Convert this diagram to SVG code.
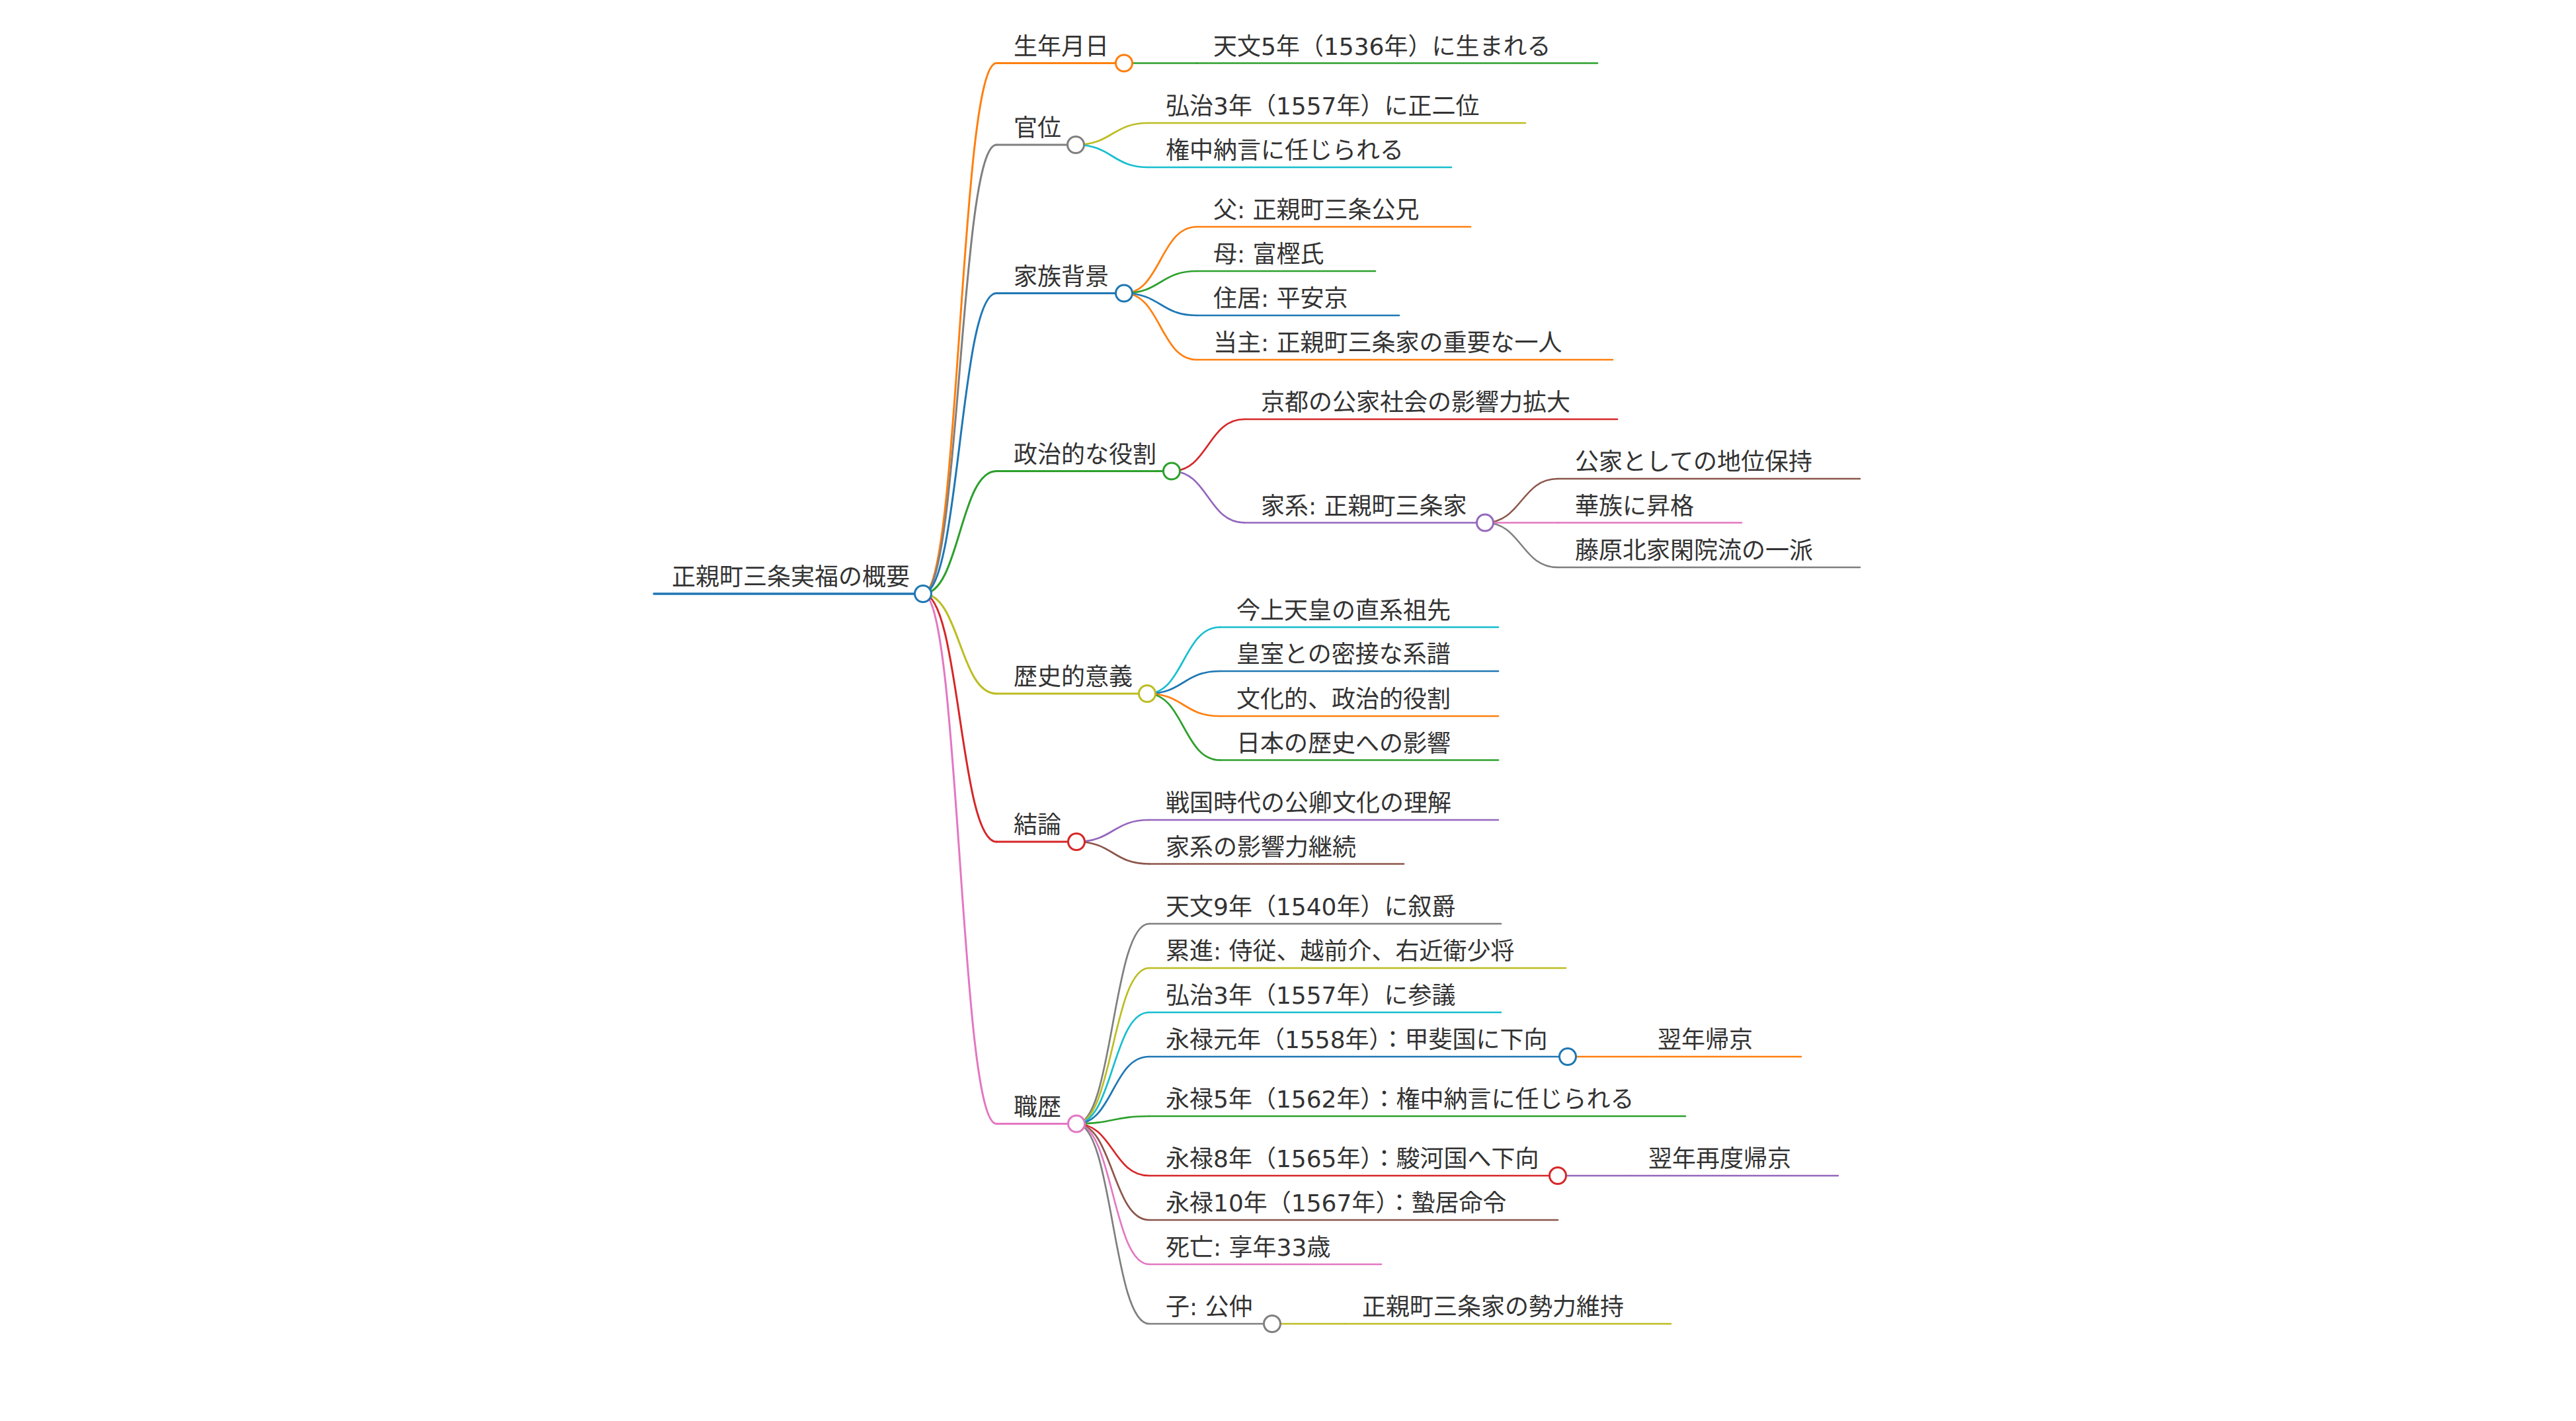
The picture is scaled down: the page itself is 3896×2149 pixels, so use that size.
<svg xmlns="http://www.w3.org/2000/svg" width="3896" height="2149" viewBox="0 0 3896 2149">
<style>
text{font-family:"DejaVu Sans","Noto Sans CJK JP",sans-serif;font-size:36px;fill:#333}
line,path{fill:none;stroke-linecap:round}
circle{fill:#fff;stroke-width:3}
.d0{stroke-width:3.5}.d1{stroke-width:3}.d2{stroke-width:2.7}.d3{stroke-width:2.5}
.blue{stroke:#1f77b4}.orange{stroke:#ff7f0e}.green{stroke:#2ca02c}.red{stroke:#d62728}.purple{stroke:#9467bd}
.brown{stroke:#8c564b}.pink{stroke:#e377c2}.gray{stroke:#7f7f7f}.olive{stroke:#bcbd22}.cyan{stroke:#17becf}
</style>
<rect width="3896" height="2149" fill="#fff"/>
<g id="connectors">
<path class="d1 orange" d="M1396 898C1451.5 898 1451.5 95.5 1507 95.5"/>
<path class="d1 gray" d="M1396 898C1451.5 898 1451.5 219 1507 219"/>
<path class="d1 blue" d="M1396 898C1451.5 898 1451.5 443.5 1507 443.5"/>
<path class="d1 green" d="M1396 898C1451.5 898 1451.5 712.5 1507 712.5"/>
<path class="d1 olive" d="M1396 898C1451.5 898 1451.5 1049 1507 1049"/>
<path class="d1 red" d="M1396 898C1451.5 898 1451.5 1273 1507 1273"/>
<path class="d1 pink" d="M1396 898C1451.5 898 1451.5 1699.5 1507 1699.5"/>
<path class="d2 green" d="M1700 95.5H1810"/>
<path class="d2 olive" d="M1627 219C1682 219 1682 186 1737 186"/>
<path class="d2 cyan" d="M1627 219C1682 219 1682 253 1737 253"/>
<path class="d2 orange" d="M1700 443.5C1755 443.5 1755 343 1810 343"/>
<path class="d2 green" d="M1700 443.5C1755 443.5 1755 410 1810 410"/>
<path class="d2 blue" d="M1700 443.5C1755 443.5 1755 477 1810 477"/>
<path class="d2 orange" d="M1700 443.5C1755 443.5 1755 544 1810 544"/>
<path class="d2 red" d="M1772 712.5C1827 712.5 1827 634 1882 634"/>
<path class="d2 purple" d="M1772 712.5C1827 712.5 1827 790.5 1882 790.5"/>
<path class="d3 brown" d="M2246 790.5C2301 790.5 2301 724 2356 724"/>
<path class="d3 pink" d="M2246 790.5H2356"/>
<path class="d3 gray" d="M2246 790.5C2301 790.5 2301 858 2356 858"/>
<path class="d2 cyan" d="M1735 1049C1790 1049 1790 948.5 1845 948.5"/>
<path class="d2 blue" d="M1735 1049C1790 1049 1790 1015 1845 1015"/>
<path class="d2 orange" d="M1735 1049C1790 1049 1790 1083 1845 1083"/>
<path class="d2 green" d="M1735 1049C1790 1049 1790 1149.5 1845 1149.5"/>
<path class="d2 purple" d="M1628 1273C1683 1273 1683 1240 1738 1240"/>
<path class="d2 brown" d="M1628 1273C1683 1273 1683 1306.5 1738 1306.5"/>
<path class="d2 gray" d="M1628 1699.5C1683 1699.5 1683 1397 1738 1397"/>
<path class="d2 olive" d="M1628 1699.5C1683 1699.5 1683 1464 1738 1464"/>
<path class="d2 cyan" d="M1628 1699.5C1683 1699.5 1683 1531 1738 1531"/>
<path class="d2 blue" d="M1628 1699.5C1683 1699.5 1683 1598 1738 1598"/>
<path class="d2 green" d="M1628 1699.5C1683 1699.5 1683 1688 1738 1688"/>
<path class="d2 red" d="M1628 1699.5C1683 1699.5 1683 1778 1738 1778"/>
<path class="d2 brown" d="M1628 1699.5C1683 1699.5 1683 1845 1738 1845"/>
<path class="d2 pink" d="M1628 1699.5C1683 1699.5 1683 1912 1738 1912"/>
<path class="d2 gray" d="M1628 1699.5C1683 1699.5 1683 2002 1738 2002"/>
<path class="d3 orange" d="M2371 1598H2481"/>
<path class="d3 purple" d="M2356 1778H2466"/>
<path class="d3 olive" d="M1924 2002H2034"/>
</g>
<g id="node-root"><line class="d0 blue" x1="989" y1="898" x2="1396" y2="898"/><circle class="blue" cx="1396" cy="898" r="12.5"/><text x="1016" y="885">正親町三条実福の概要</text></g>
<g id="node-birth"><line class="d1 orange" x1="1507" y1="95.5" x2="1700" y2="95.5"/><circle class="orange" cx="1700" cy="95.5" r="12.5"/><text x="1533" y="82.5">生年月日</text></g>
<g id="node-birth-1"><line class="d2 green" x1="1810" y1="95.5" x2="2416" y2="95.5"/><text x="1835" y="82.5">天文5年（1536年）に生まれる</text></g>
<g id="node-rank"><line class="d1 gray" x1="1507" y1="219" x2="1627" y2="219"/><circle class="gray" cx="1627" cy="219" r="12.5"/><text x="1533" y="206">官位</text></g>
<g id="node-rank-1"><line class="d2 olive" x1="1737" y1="186" x2="2307" y2="186"/><text x="1763" y="173">弘治3年（1557年）に正二位</text></g>
<g id="node-rank-2"><line class="d2 cyan" x1="1737" y1="253" x2="2195" y2="253"/><text x="1763" y="240">権中納言に任じられる</text></g>
<g id="node-family"><line class="d1 blue" x1="1507" y1="443.5" x2="1700" y2="443.5"/><circle class="blue" cx="1700" cy="443.5" r="12.5"/><text x="1533" y="430.5">家族背景</text></g>
<g id="node-family-1"><line class="d2 orange" x1="1810" y1="343" x2="2224" y2="343"/><text x="1835" y="330">父: 正親町三条公兄</text></g>
<g id="node-family-2"><line class="d2 green" x1="1810" y1="410" x2="2080" y2="410"/><text x="1835" y="397">母: 富樫氏</text></g>
<g id="node-family-3"><line class="d2 blue" x1="1810" y1="477" x2="2116" y2="477"/><text x="1835" y="464">住居: 平安京</text></g>
<g id="node-family-4"><line class="d2 orange" x1="1810" y1="544" x2="2439" y2="544"/><text x="1835" y="531">当主: 正親町三条家の重要な一人</text></g>
<g id="node-politics"><line class="d1 green" x1="1507" y1="712.5" x2="1772" y2="712.5"/><circle class="green" cx="1772" cy="712.5" r="12.5"/><text x="1533" y="699.5">政治的な役割</text></g>
<g id="node-politics-1"><line class="d2 red" x1="1882" y1="634" x2="2446" y2="634"/><text x="1907" y="621">京都の公家社会の影響力拡大</text></g>
<g id="node-politics-2"><line class="d2 purple" x1="1882" y1="790.5" x2="2246" y2="790.5"/><circle class="purple" cx="2246" cy="790.5" r="12.5"/><text x="1907" y="777.5">家系: 正親町三条家</text></g>
<g id="node-lineage-1"><line class="d3 brown" x1="2356" y1="724" x2="2813" y2="724"/><text x="2382" y="711">公家としての地位保持</text></g>
<g id="node-lineage-2"><line class="d3 pink" x1="2356" y1="790.5" x2="2634" y2="790.5"/><text x="2382" y="777.5">華族に昇格</text></g>
<g id="node-lineage-3"><line class="d3 gray" x1="2356" y1="858" x2="2813" y2="858"/><text x="2382" y="845">藤原北家閑院流の一派</text></g>
<g id="node-history"><line class="d1 olive" x1="1507" y1="1049" x2="1735" y2="1049"/><circle class="olive" cx="1735" cy="1049" r="12.5"/><text x="1533" y="1036">歴史的意義</text></g>
<g id="node-history-1"><line class="d2 cyan" x1="1845" y1="948.5" x2="2266" y2="948.5"/><text x="1870" y="935.5">今上天皇の直系祖先</text></g>
<g id="node-history-2"><line class="d2 blue" x1="1845" y1="1015" x2="2266" y2="1015"/><text x="1870" y="1002">皇室との密接な系譜</text></g>
<g id="node-history-3"><line class="d2 orange" x1="1845" y1="1083" x2="2266" y2="1083"/><text x="1870" y="1070">文化的、政治的役割</text></g>
<g id="node-history-4"><line class="d2 green" x1="1845" y1="1149.5" x2="2266" y2="1149.5"/><text x="1870" y="1136.5">日本の歴史への影響</text></g>
<g id="node-conclusion"><line class="d1 red" x1="1507" y1="1273" x2="1628" y2="1273"/><circle class="red" cx="1628" cy="1273" r="12.5"/><text x="1533" y="1260">結論</text></g>
<g id="node-conclusion-1"><line class="d2 purple" x1="1738" y1="1240" x2="2266" y2="1240"/><text x="1763" y="1227">戦国時代の公卿文化の理解</text></g>
<g id="node-conclusion-2"><line class="d2 brown" x1="1738" y1="1306.5" x2="2123" y2="1306.5"/><text x="1763" y="1293.5">家系の影響力継続</text></g>
<g id="node-career"><line class="d1 pink" x1="1507" y1="1699.5" x2="1628" y2="1699.5"/><circle class="pink" cx="1628" cy="1699.5" r="12.5"/><text x="1533" y="1686.5">職歴</text></g>
<g id="node-career-1"><line class="d2 gray" x1="1738" y1="1397" x2="2270" y2="1397"/><text x="1763" y="1384">天文9年（1540年）に叙爵</text></g>
<g id="node-career-2"><line class="d2 olive" x1="1738" y1="1464" x2="2368" y2="1464"/><text x="1763" y="1451">累進: 侍従、越前介、右近衛少将</text></g>
<g id="node-career-3"><line class="d2 cyan" x1="1738" y1="1531" x2="2270" y2="1531"/><text x="1763" y="1518">弘治3年（1557年）に参議</text></g>
<g id="node-career-4"><line class="d2 blue" x1="1738" y1="1598" x2="2371" y2="1598"/><circle class="blue" cx="2371" cy="1598" r="12.5"/><text x="1763" y="1585">永禄元年（1558年）：甲斐国に下向</text></g>
<g id="node-career-4-1"><line class="d3 orange" x1="2481" y1="1598" x2="2724" y2="1598"/><text x="2507" y="1585">翌年帰京</text></g>
<g id="node-career-5"><line class="d2 green" x1="1738" y1="1688" x2="2549" y2="1688"/><text x="1763" y="1675">永禄5年（1562年）：権中納言に任じられる</text></g>
<g id="node-career-6"><line class="d2 red" x1="1738" y1="1778" x2="2356" y2="1778"/><circle class="red" cx="2356" cy="1778" r="12.5"/><text x="1763" y="1765">永禄8年（1565年）：駿河国へ下向</text></g>
<g id="node-career-6-1"><line class="d3 purple" x1="2466" y1="1778" x2="2780" y2="1778"/><text x="2493" y="1765">翌年再度帰京</text></g>
<g id="node-career-7"><line class="d2 brown" x1="1738" y1="1845" x2="2356" y2="1845"/><text x="1763" y="1832">永禄10年（1567年）：蟄居命令</text></g>
<g id="node-career-8"><line class="d2 pink" x1="1738" y1="1912" x2="2089" y2="1912"/><text x="1763" y="1899">死亡: 享年33歳</text></g>
<g id="node-career-9"><line class="d2 gray" x1="1738" y1="2002" x2="1924" y2="2002"/><circle class="gray" cx="1924" cy="2002" r="12.5"/><text x="1763" y="1989">子: 公仲</text></g>
<g id="node-career-9-1"><line class="d3 olive" x1="2034" y1="2002" x2="2527" y2="2002"/><text x="2060" y="1989">正親町三条家の勢力維持</text></g>
</svg>
